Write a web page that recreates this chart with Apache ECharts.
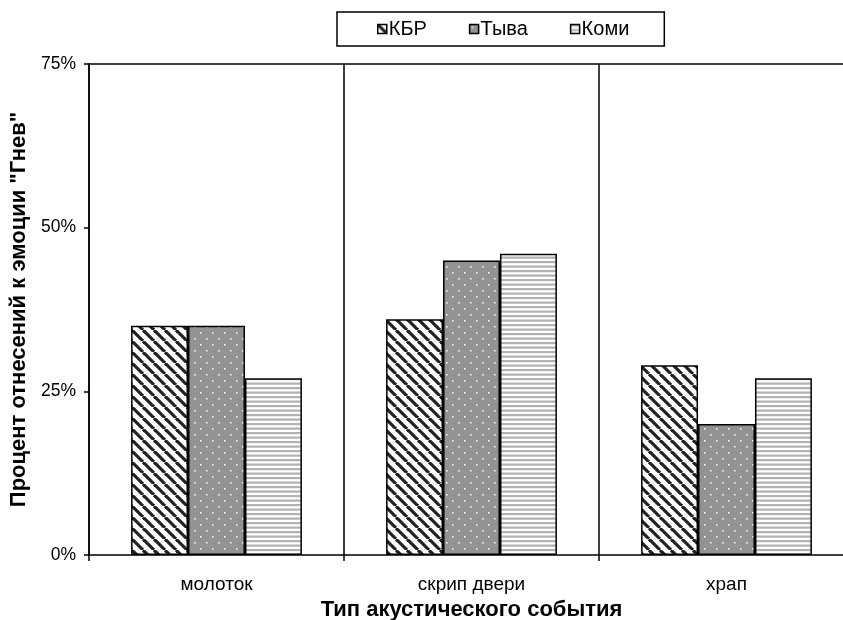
<!DOCTYPE html>
<html>
<head>
<meta charset="utf-8">
<script src="https://cdn.jsdelivr.net/npm/echarts@6/dist/echarts.min.js"></script>
<style>
html,body{margin:0;padding:0;background:#fff;}
#c{width:843px;height:620px;}
</style>
</head>
<body>
<div id="c"></div>
<script>
const categories = ['молоток', 'скрип двери', 'храп'];
const seriesNames = ['КБР', 'Тыва', 'Коми'];
const kbr = [35, 36, 29];
const tyva = [35, 45, 20];
const komi = [27, 46, 27];
const yTicks = [0, 25, 50, 75];

function makeTile(w, h, draw) {
  const c = document.createElement('canvas');
  c.width = w; c.height = h;
  const ctx = c.getContext('2d');
  draw(ctx, w, h);
  return c;
}
const hatchKbr = makeTile(11, 11, (ctx, w, h) => {
  ctx.fillStyle = '#fff'; ctx.fillRect(0, 0, w, h);
  ctx.strokeStyle = '#222'; ctx.lineWidth = 3.2;
  for (const k of [-w, 0, w]) {
    ctx.beginPath(); ctx.moveTo(k, 0); ctx.lineTo(k + w, h); ctx.stroke();
  }
});
const dotsTyva = makeTile(12, 12, (ctx, w, h) => {
  ctx.fillStyle = '#929292'; ctx.fillRect(0, 0, w, h);
  ctx.fillStyle = '#f4f4f4';
  ctx.fillRect(2, 2, 1.6, 1.6);
  ctx.fillRect(8, 8, 1.6, 1.6);
});
const stripesKomi = makeTile(9, 9, (ctx, w, h) => {
  ctx.fillStyle = '#fff'; ctx.fillRect(0, 0, w, h);
  ctx.fillStyle = '#b2b2b2';
  ctx.fillRect(0, 0, w, 2.2);
  ctx.fillRect(0, 4.5, w, 2.2);
});
const patterns = [hatchKbr, dotsTyva, stripesKomi];
const values = [kbr, tyva, komi];

const FONT = "'Liberation Sans', Arial, sans-serif";
const chart = echarts.init(document.getElementById('c'));
chart.setOption({
  animation: false,
  backgroundColor: '#fff',
  textStyle: { fontFamily: FONT, color: '#000' },
  legend: {
    data: seriesNames,
    left: 337, top: 12,
    itemWidth: 9, itemHeight: 9, itemGap: 42,
    padding: [7, 35, 7, 40],
    borderColor: '#000', borderWidth: 1.5,
    icon: 'rect',
    textStyle: { fontFamily: FONT, fontSize: 20, color: '#000', padding: [0, 0, 0, -3] },
    itemStyle: { borderColor: '#000', borderWidth: 1.5 }
  },
  grid: { left: 89, top: 64, width: 765, height: 491, containLabel: false, outerBoundsMode: 'none' },
  xAxis: [{
    type: 'category',
    data: categories,
    boundaryGap: true,
    axisLine: { show: true, lineStyle: { color: '#000', width: 1.5 } },
    axisTick: { show: true, inside: false, length: 6, lineStyle: { color: '#000', width: 1.5 } },
    axisLabel: { fontFamily: FONT, fontSize: 19, color: '#000', margin: 20 },
    splitLine: { show: true, lineStyle: { color: '#000', width: 1.5 } },
    name: 'Тип акустического события',
    nameLocation: 'middle',
    nameGap: 42,
    nameTextStyle: { fontFamily: FONT, fontSize: 22, fontWeight: 'bold', color: '#000' }
  }, {
    type: 'category',
    position: 'top',
    data: categories,
    axisLine: { show: true, lineStyle: { color: '#000', width: 1.5 } },
    axisTick: { show: false },
    axisLabel: { show: false },
    splitLine: { show: false }
  }],
  yAxis: {
    type: 'value',
    min: yTicks[0], max: yTicks[yTicks.length - 1], interval: yTicks[1] - yTicks[0],
    axisLine: { show: true, lineStyle: { color: '#000', width: 1.5 } },
    axisTick: { show: true, inside: false, length: 5, lineStyle: { color: '#000', width: 1.5 } },
    axisLabel: { fontFamily: FONT, fontSize: 17.5, color: '#000', margin: 13, formatter: '{value}%' },
    splitLine: { show: false },
    name: 'Процент отнесений к эмоции "Гнев"',
    nameLocation: 'middle',
    nameGap: 59,
    nameTextStyle: { fontFamily: FONT, fontSize: 22, fontWeight: 'bold', color: '#000' }
  },
  series: seriesNames.map((n, i) => ({
    name: n,
    type: 'bar',
    data: values[i],
    barGap: '0%',
    barCategoryGap: '33%',
    itemStyle: {
      color: { image: patterns[i], repeat: 'repeat' },
      borderColor: '#000',
      borderWidth: 1.5
    }
  }))
});
</script>
</body>
</html>
